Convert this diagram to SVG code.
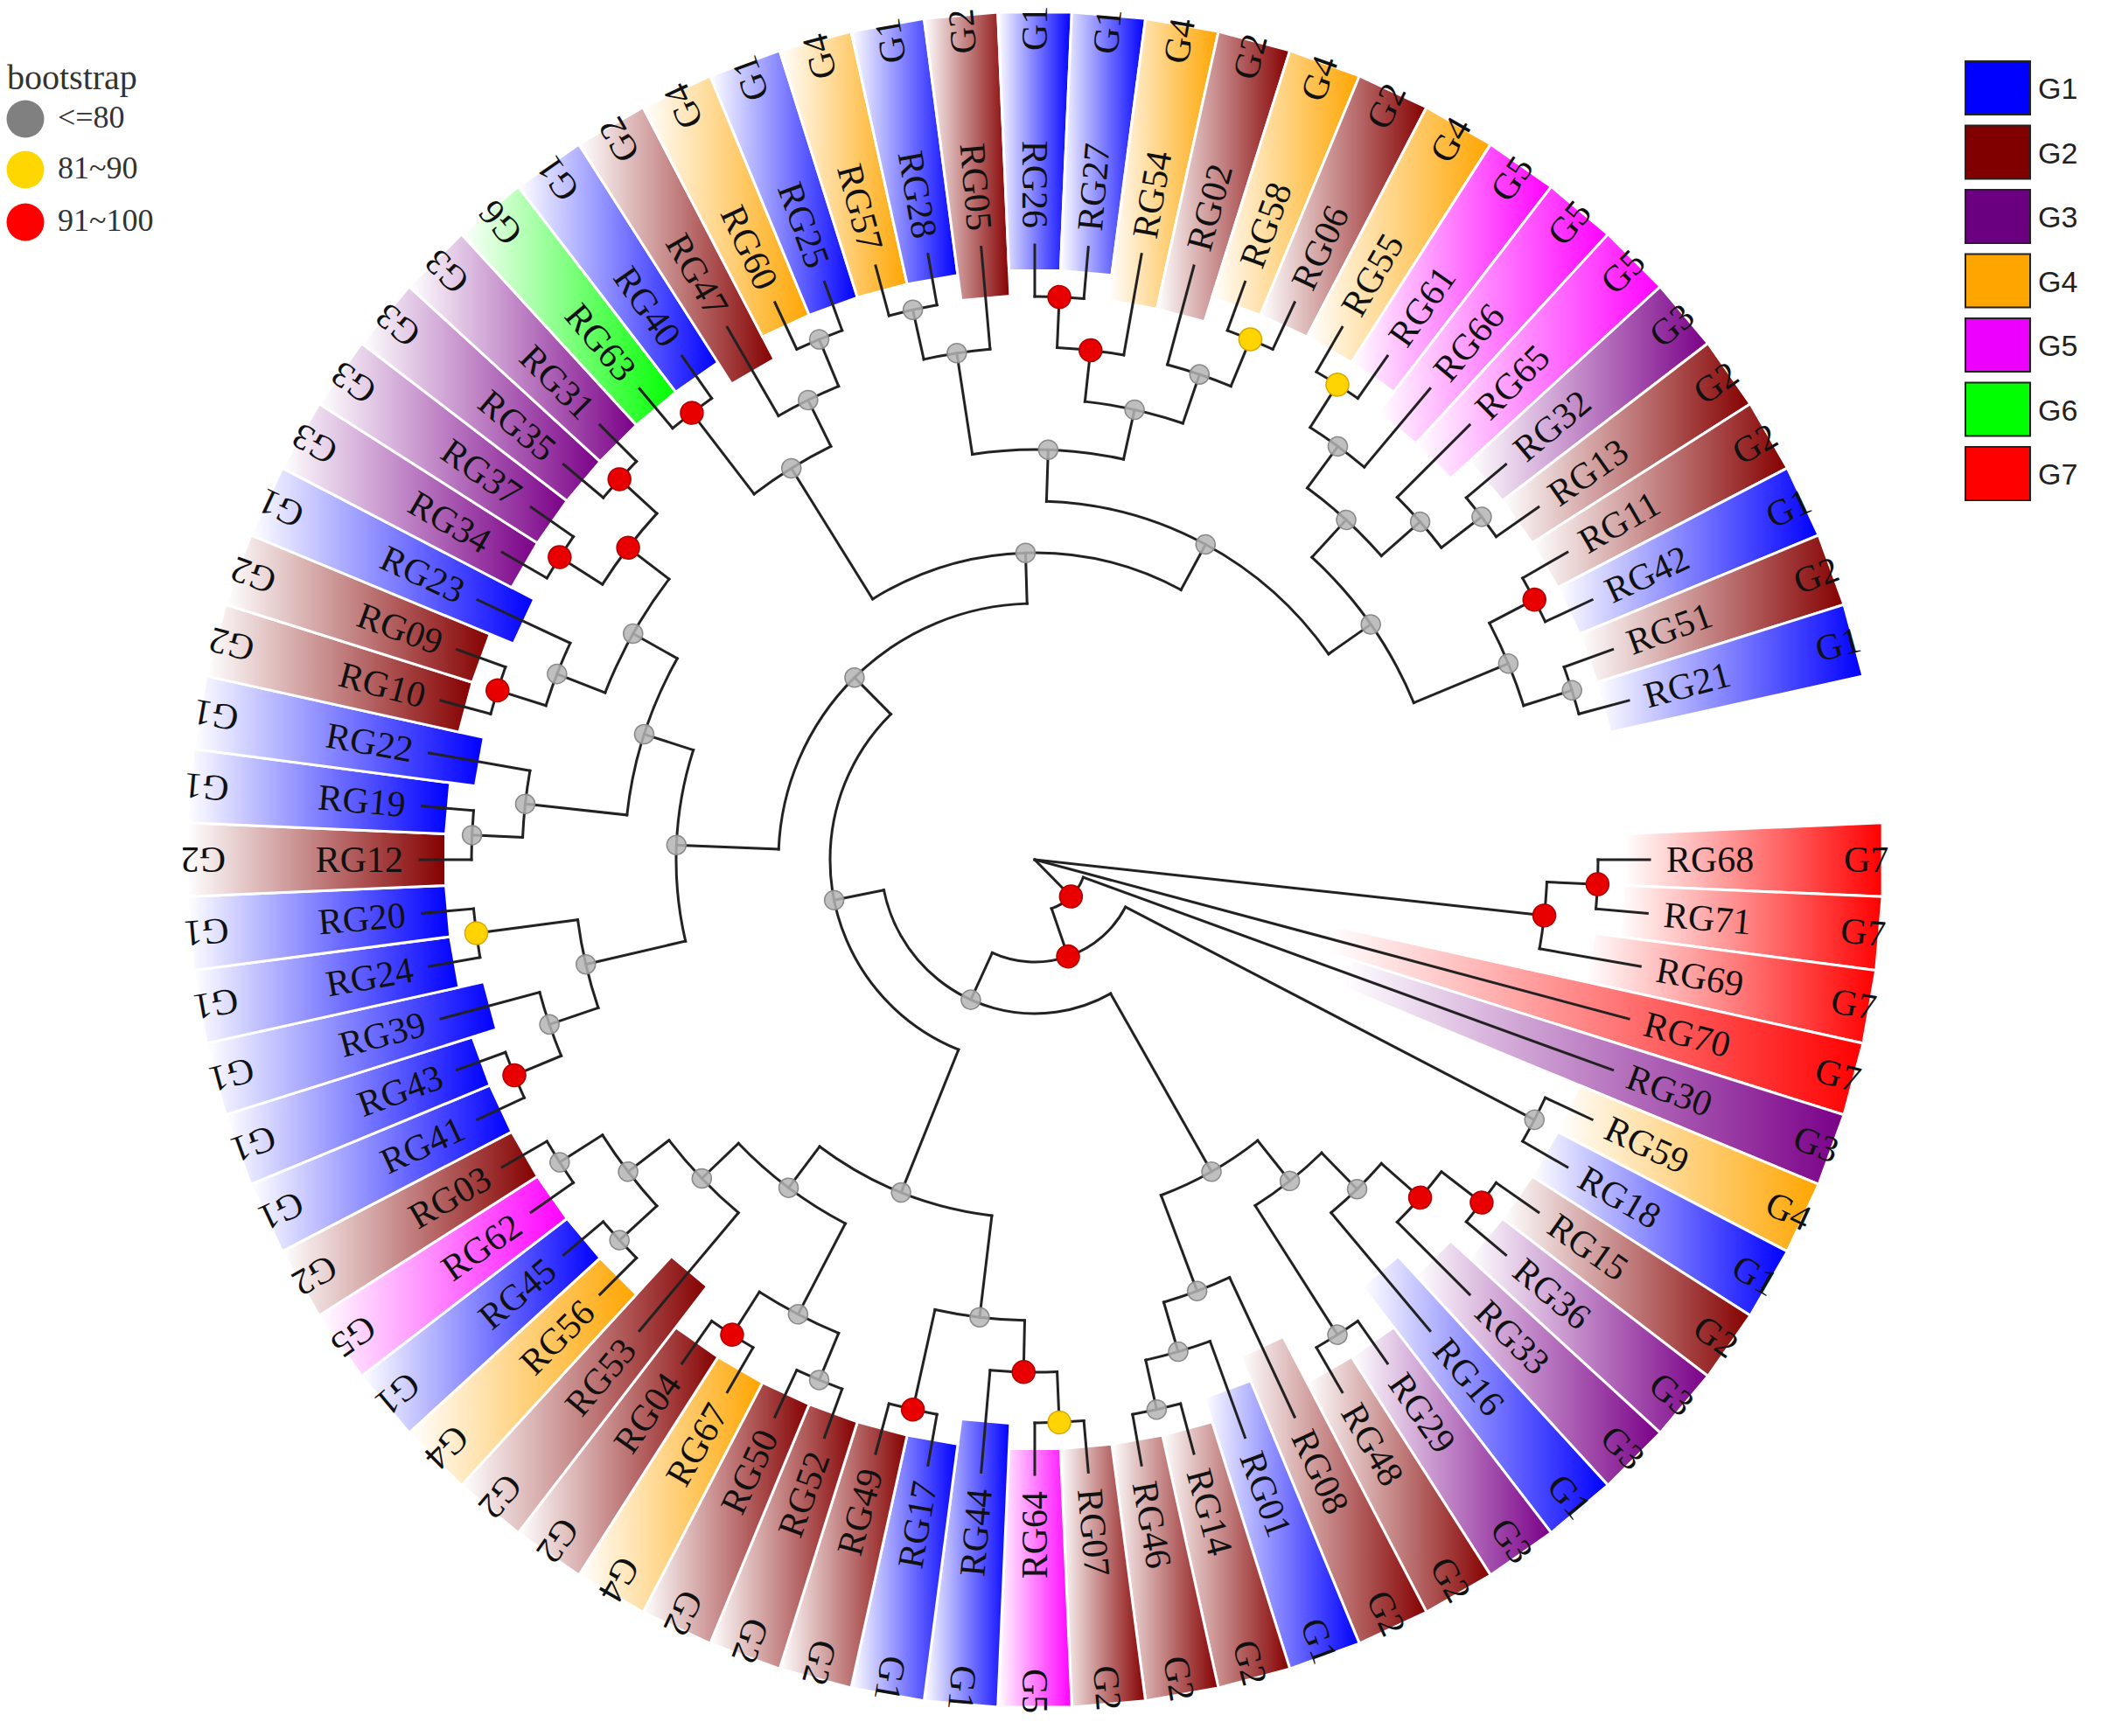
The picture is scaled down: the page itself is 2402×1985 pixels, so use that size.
<svg xmlns="http://www.w3.org/2000/svg" width="2402" height="1985" viewBox="0 0 2402 1985">
<defs>
<linearGradient id="g1" x1="0" y1="0" x2="1" y2="0"><stop offset="0" stop-color="#ffffff"/><stop offset="1" stop-color="#0000ff"/></linearGradient>
<linearGradient id="g2" x1="0" y1="0" x2="1" y2="0"><stop offset="0" stop-color="#ffffff"/><stop offset="1" stop-color="#850000"/></linearGradient>
<linearGradient id="g3" x1="0" y1="0" x2="1" y2="0"><stop offset="0" stop-color="#ffffff"/><stop offset="1" stop-color="#7a0088"/></linearGradient>
<linearGradient id="g4" x1="0" y1="0" x2="1" y2="0"><stop offset="0" stop-color="#ffffff"/><stop offset="1" stop-color="#ffa500"/></linearGradient>
<linearGradient id="g5" x1="0" y1="0" x2="1" y2="0"><stop offset="0" stop-color="#ffffff"/><stop offset="1" stop-color="#ff00ff"/></linearGradient>
<linearGradient id="g6" x1="0" y1="0" x2="1" y2="0"><stop offset="0" stop-color="#ffffff"/><stop offset="1" stop-color="#00ff00"/></linearGradient>
<linearGradient id="g7" x1="0" y1="0" x2="1" y2="0"><stop offset="0" stop-color="#ffffff"/><stop offset="1" stop-color="#ff0000"/></linearGradient>
</defs>
<style>
.w{stroke:#ffffff;stroke-width:3}
.lr,.ll,.gl{font-family:"Liberation Serif","Times New Roman",serif;font-size:42px;fill:#111;dominant-baseline:central}
.ll{text-anchor:end}
.c{fill:none;stroke:#222;stroke-width:3;stroke-linecap:square}
.dg{fill:#b4b4b4;fill-opacity:.85;stroke:#8a8a8a;stroke-width:1.5}
.dr{fill:#e80000;stroke:#b00000;stroke-width:1.5}
.dy{fill:#ffd400;stroke:#d9a800;stroke-width:1.5}
.bt{font-family:"Liberation Serif","Times New Roman",serif;fill:#333;dominant-baseline:central}
.lg{font-family:"Liberation Sans",Arial,sans-serif;font-size:34px;fill:#222;dominant-baseline:central}
.sq{stroke:#222;stroke-width:2}
</style>
<rect width="2402" height="1985" fill="#ffffff"/>

<g id="leaves" transform="translate(1183 983)">
<g id="RG68"><polygon class="w" fill="url(#g7)" points="673.4,-29.4 969.1,-42.3 969.1,42.3 673.4,29.4"/><text class="lr" x="722">RG68</text><text class="gl" x="925">G7</text></g>
<g id="RG71"><polygon class="w" fill="url(#g7)" points="673.4,29.4 969.1,42.3 961.7,126.6 668.2,88"/><g transform="rotate(5)"><text class="lr" x="722">RG71</text><text class="gl" x="925">G7</text></g></g>
<g id="RG69"><polygon class="w" fill="url(#g7)" points="639.5,84.2 961.7,126.6 947,210 629.7,139.6"/><g transform="rotate(10)"><text class="lr" x="722">RG69</text><text class="gl" x="925">G7</text></g></g>
<g id="RG70"><polygon class="w" fill="url(#g7)" points="343.7,76.2 947,210 925.1,291.7 335.7,105.9"/><g transform="rotate(15)"><text class="lr" x="722">RG70</text><text class="gl" x="925">G7</text></g></g>
<g id="RG30"><polygon class="w" fill="url(#g3)" points="363.4,114.6 925.1,291.7 896.2,371.2 352,145.8"/><g transform="rotate(20)"><text class="lr" x="722">RG30</text><text class="gl" x="925">G3</text></g></g>
<g id="RG59"><polygon class="w" fill="url(#g4)" points="622.7,257.9 896.2,371.2 860.4,447.9 597.9,311.2"/><g transform="rotate(25)"><text class="lr" x="722">RG59</text><text class="gl" x="925">G4</text></g></g>
<g id="RG18"><polygon class="w" fill="url(#g1)" points="597.9,311.2 860.4,447.9 818.1,521.2 568.5,362.1"/><g transform="rotate(30)"><text class="lr" x="722">RG18</text><text class="gl" x="925">G1</text></g></g>
<g id="RG15"><polygon class="w" fill="url(#g2)" points="568.5,362.1 818.1,521.2 769.6,590.5 534.7,410.3"/><g transform="rotate(35)"><text class="lr" x="722">RG15</text><text class="gl" x="925">G2</text></g></g>
<g id="RG36"><polygon class="w" fill="url(#g3)" points="534.7,410.3 769.6,590.5 715.2,655.3 496.9,455.4"/><g transform="rotate(40)"><text class="lr" x="722">RG36</text><text class="gl" x="925">G3</text></g></g>
<g id="RG33"><polygon class="w" fill="url(#g3)" points="475.5,435.8 715.2,655.3 655.3,715.2 435.8,475.5"/><g transform="rotate(45)"><text class="lr" x="722">RG33</text><text class="gl" x="925">G3</text></g></g>
<g id="RG16"><polygon class="w" fill="url(#g1)" points="415.5,453.4 655.3,715.2 590.5,769.6 374.4,487.9"/><g transform="rotate(50)"><text class="lr" x="722">RG16</text><text class="gl" x="925">G1</text></g></g>
<g id="RG29"><polygon class="w" fill="url(#g3)" points="410.3,534.7 590.5,769.6 521.2,818.1 362.1,568.5"/><g transform="rotate(55)"><text class="lr" x="722">RG29</text><text class="gl" x="925">G3</text></g></g>
<g id="RG48"><polygon class="w" fill="url(#g2)" points="362.1,568.5 521.2,818.1 447.9,860.4 311.2,597.9"/><g transform="rotate(60)"><text class="lr" x="722">RG48</text><text class="gl" x="925">G2</text></g></g>
<g id="RG08"><polygon class="w" fill="url(#g2)" points="284,545.5 447.9,860.4 371.2,896.2 235.4,568.2"/><g transform="rotate(65)"><text class="lr" x="722">RG08</text><text class="gl" x="925">G2</text></g></g>
<g id="RG01"><polygon class="w" fill="url(#g1)" points="246.8,595.9 371.2,896.2 291.7,925.1 194,615.2"/><g transform="rotate(70)"><text class="lr" x="722">RG01</text><text class="gl" x="925">G1</text></g></g>
<g id="RG14"><polygon class="w" fill="url(#g2)" points="202.7,642.8 291.7,925.1 210,947 145.9,658"/><g transform="rotate(75)"><text class="lr" x="722">RG14</text><text class="gl" x="925">G2</text></g></g>
<g id="RG46"><polygon class="w" fill="url(#g2)" points="145.9,658 210,947 126.6,961.7 88,668.2"/><g transform="rotate(80)"><text class="lr" x="722">RG46</text><text class="gl" x="925">G2</text></g></g>
<g id="RG07"><polygon class="w" fill="url(#g2)" points="88,668.2 126.6,961.7 42.3,969.1 29.4,673.4"/><g transform="rotate(85)"><text class="lr" x="722">RG07</text><text class="gl" x="925">G2</text></g></g>
<g id="RG64"><polygon class="w" fill="url(#g5)" points="29.4,673.4 42.3,969.1 -42.3,969.1 -29.4,673.4"/><g transform="rotate(-90)"><text class="ll" x="-722">RG64</text><text class="gl" x="925" transform="rotate(180)">G5</text></g></g>
<g id="RG44"><polygon class="w" fill="url(#g1)" points="-28.1,644.4 -42.3,969.1 -126.6,961.7 -84.2,639.5"/><g transform="rotate(-85)"><text class="ll" x="-722">RG44</text><text class="gl" x="925" transform="rotate(180)">G1</text></g></g>
<g id="RG17"><polygon class="w" fill="url(#g1)" points="-88,668.2 -126.6,961.7 -210,947 -145.9,658"/><g transform="rotate(-80)"><text class="ll" x="-722">RG17</text><text class="gl" x="925" transform="rotate(180)">G1</text></g></g>
<g id="RG49"><polygon class="w" fill="url(#g2)" points="-145.9,658 -210,947 -291.7,925.1 -202.7,642.8"/><g transform="rotate(-75)"><text class="ll" x="-722">RG49</text><text class="gl" x="925" transform="rotate(180)">G2</text></g></g>
<g id="RG52"><polygon class="w" fill="url(#g2)" points="-202.7,642.8 -291.7,925.1 -371.2,896.2 -257.9,622.7"/><g transform="rotate(-70)"><text class="ll" x="-722">RG52</text><text class="gl" x="925" transform="rotate(180)">G2</text></g></g>
<g id="RG50"><polygon class="w" fill="url(#g2)" points="-257.9,622.7 -371.2,896.2 -447.9,860.4 -311.2,597.9"/><g transform="rotate(-65)"><text class="ll" x="-722">RG50</text><text class="gl" x="925" transform="rotate(180)">G2</text></g></g>
<g id="RG67"><polygon class="w" fill="url(#g4)" points="-311.2,597.9 -447.9,860.4 -521.2,818.1 -362.1,568.5"/><g transform="rotate(-60)"><text class="ll" x="-722">RG67</text><text class="gl" x="925" transform="rotate(180)">G4</text></g></g>
<g id="RG04"><polygon class="w" fill="url(#g2)" points="-362.1,568.5 -521.2,818.1 -590.5,769.6 -410.3,534.7"/><g transform="rotate(-55)"><text class="ll" x="-722">RG04</text><text class="gl" x="925" transform="rotate(180)">G2</text></g></g>
<g id="RG53"><polygon class="w" fill="url(#g2)" points="-374.4,487.9 -590.5,769.6 -655.3,715.2 -415.5,453.4"/><g transform="rotate(-50)"><text class="ll" x="-722">RG53</text><text class="gl" x="925" transform="rotate(180)">G2</text></g></g>
<g id="RG56"><polygon class="w" fill="url(#g4)" points="-455.4,496.9 -655.3,715.2 -715.2,655.3 -496.9,455.4"/><g transform="rotate(-45)"><text class="ll" x="-722">RG56</text><text class="gl" x="925" transform="rotate(180)">G4</text></g></g>
<g id="RG45"><polygon class="w" fill="url(#g1)" points="-496.9,455.4 -715.2,655.3 -769.6,590.5 -534.7,410.3"/><g transform="rotate(-40)"><text class="ll" x="-722">RG45</text><text class="gl" x="925" transform="rotate(180)">G1</text></g></g>
<g id="RG62"><polygon class="w" fill="url(#g5)" points="-534.7,410.3 -769.6,590.5 -818.1,521.2 -568.5,362.1"/><g transform="rotate(-35)"><text class="ll" x="-722">RG62</text><text class="gl" x="925" transform="rotate(180)">G5</text></g></g>
<g id="RG03"><polygon class="w" fill="url(#g2)" points="-568.5,362.1 -818.1,521.2 -860.4,447.9 -597.9,311.2"/><g transform="rotate(-30)"><text class="ll" x="-722">RG03</text><text class="gl" x="925" transform="rotate(180)">G2</text></g></g>
<g id="RG41"><polygon class="w" fill="url(#g1)" points="-597.9,311.2 -860.4,447.9 -896.2,371.2 -622.7,257.9"/><g transform="rotate(-25)"><text class="ll" x="-722">RG41</text><text class="gl" x="925" transform="rotate(180)">G1</text></g></g>
<g id="RG43"><polygon class="w" fill="url(#g1)" points="-622.7,257.9 -896.2,371.2 -925.1,291.7 -642.8,202.7"/><g transform="rotate(-20)"><text class="ll" x="-722">RG43</text><text class="gl" x="925" transform="rotate(180)">G1</text></g></g>
<g id="RG39"><polygon class="w" fill="url(#g1)" points="-615.2,194 -925.1,291.7 -947,210 -629.7,139.6"/><g transform="rotate(-15)"><text class="ll" x="-722">RG39</text><text class="gl" x="925" transform="rotate(180)">G1</text></g></g>
<g id="RG24"><polygon class="w" fill="url(#g1)" points="-658,145.9 -947,210 -961.7,126.6 -668.2,88"/><g transform="rotate(-10)"><text class="ll" x="-722">RG24</text><text class="gl" x="925" transform="rotate(180)">G1</text></g></g>
<g id="RG20"><polygon class="w" fill="url(#g1)" points="-668.2,88 -961.7,126.6 -969.1,42.3 -673.4,29.4"/><g transform="rotate(-5)"><text class="ll" x="-722">RG20</text><text class="gl" x="925" transform="rotate(180)">G1</text></g></g>
<g id="RG12"><polygon class="w" fill="url(#g2)" points="-673.4,29.4 -969.1,42.3 -969.1,-42.3 -673.4,-29.4"/><g><text class="ll" x="-722">RG12</text><text class="gl" x="925" transform="rotate(180)">G2</text></g></g>
<g id="RG19"><polygon class="w" fill="url(#g1)" points="-673.4,-29.4 -969.1,-42.3 -961.7,-126.6 -668.2,-88"/><g transform="rotate(5)"><text class="ll" x="-722">RG19</text><text class="gl" x="925" transform="rotate(180)">G1</text></g></g>
<g id="RG22"><polygon class="w" fill="url(#g1)" points="-639.5,-84.2 -961.7,-126.6 -947,-210 -629.7,-139.6"/><g transform="rotate(10)"><text class="ll" x="-722">RG22</text><text class="gl" x="925" transform="rotate(180)">G1</text></g></g>
<g id="RG10"><polygon class="w" fill="url(#g2)" points="-658,-145.9 -947,-210 -925.1,-291.7 -642.8,-202.7"/><g transform="rotate(15)"><text class="ll" x="-722">RG10</text><text class="gl" x="925" transform="rotate(180)">G2</text></g></g>
<g id="RG09"><polygon class="w" fill="url(#g2)" points="-642.8,-202.7 -925.1,-291.7 -896.2,-371.2 -622.7,-257.9"/><g transform="rotate(20)"><text class="ll" x="-722">RG09</text><text class="gl" x="925" transform="rotate(180)">G2</text></g></g>
<g id="RG23"><polygon class="w" fill="url(#g1)" points="-595.9,-246.8 -896.2,-371.2 -860.4,-447.9 -572.1,-297.8"/><g transform="rotate(25)"><text class="ll" x="-722">RG23</text><text class="gl" x="925" transform="rotate(180)">G1</text></g></g>
<g id="RG34"><polygon class="w" fill="url(#g3)" points="-597.9,-311.2 -860.4,-447.9 -818.1,-521.2 -568.5,-362.1"/><g transform="rotate(30)"><text class="ll" x="-722">RG34</text><text class="gl" x="925" transform="rotate(180)">G3</text></g></g>
<g id="RG37"><polygon class="w" fill="url(#g3)" points="-568.5,-362.1 -818.1,-521.2 -769.6,-590.5 -534.7,-410.3"/><g transform="rotate(35)"><text class="ll" x="-722">RG37</text><text class="gl" x="925" transform="rotate(180)">G3</text></g></g>
<g id="RG35"><polygon class="w" fill="url(#g3)" points="-534.7,-410.3 -769.6,-590.5 -715.2,-655.3 -496.9,-455.4"/><g transform="rotate(40)"><text class="ll" x="-722">RG35</text><text class="gl" x="925" transform="rotate(180)">G3</text></g></g>
<g id="RG31"><polygon class="w" fill="url(#g3)" points="-496.9,-455.4 -715.2,-655.3 -655.3,-715.2 -455.4,-496.9"/><g transform="rotate(45)"><text class="ll" x="-722">RG31</text><text class="gl" x="925" transform="rotate(180)">G3</text></g></g>
<g id="RG63"><polygon class="w" fill="url(#g6)" points="-455.4,-496.9 -655.3,-715.2 -590.5,-769.6 -410.3,-534.7"/><g transform="rotate(50)"><text class="ll" x="-722">RG63</text><text class="gl" x="925" transform="rotate(180)">G6</text></g></g>
<g id="RG40"><polygon class="w" fill="url(#g1)" points="-410.3,-534.7 -590.5,-769.6 -521.2,-818.1 -362.1,-568.5"/><g transform="rotate(55)"><text class="ll" x="-722">RG40</text><text class="gl" x="925" transform="rotate(180)">G1</text></g></g>
<g id="RG47"><polygon class="w" fill="url(#g2)" points="-346.6,-544 -521.2,-818.1 -447.9,-860.4 -297.8,-572.1"/><g transform="rotate(60)"><text class="ll" x="-722">RG47</text><text class="gl" x="925" transform="rotate(180)">G2</text></g></g>
<g id="RG60"><polygon class="w" fill="url(#g4)" points="-311.2,-597.9 -447.9,-860.4 -371.2,-896.2 -257.9,-622.7"/><g transform="rotate(65)"><text class="ll" x="-722">RG60</text><text class="gl" x="925" transform="rotate(180)">G4</text></g></g>
<g id="RG25"><polygon class="w" fill="url(#g1)" points="-257.9,-622.7 -371.2,-896.2 -291.7,-925.1 -202.7,-642.8"/><g transform="rotate(70)"><text class="ll" x="-722">RG25</text><text class="gl" x="925" transform="rotate(180)">G1</text></g></g>
<g id="RG57"><polygon class="w" fill="url(#g4)" points="-202.7,-642.8 -291.7,-925.1 -210,-947 -145.9,-658"/><g transform="rotate(75)"><text class="ll" x="-722">RG57</text><text class="gl" x="925" transform="rotate(180)">G4</text></g></g>
<g id="RG28"><polygon class="w" fill="url(#g1)" points="-145.9,-658 -210,-947 -126.6,-961.7 -88,-668.2"/><g transform="rotate(80)"><text class="ll" x="-722">RG28</text><text class="gl" x="925" transform="rotate(180)">G1</text></g></g>
<g id="RG05"><polygon class="w" fill="url(#g2)" points="-84.2,-639.5 -126.6,-961.7 -42.3,-969.1 -28.1,-644.4"/><g transform="rotate(85)"><text class="ll" x="-722">RG05</text><text class="gl" x="925" transform="rotate(180)">G2</text></g></g>
<g id="RG26"><polygon class="w" fill="url(#g1)" points="-29.4,-673.4 -42.3,-969.1 42.3,-969.1 29.4,-673.4"/><g transform="rotate(90)"><text class="ll" x="-722">RG26</text><text class="gl" x="925" transform="rotate(180)">G1</text></g></g>
<g id="RG27"><polygon class="w" fill="url(#g1)" points="29.4,-673.4 42.3,-969.1 126.6,-961.7 88,-668.2"/><g transform="rotate(275)"><text class="lr" x="722">RG27</text><text class="gl" x="925">G1</text></g></g>
<g id="RG54"><polygon class="w" fill="url(#g4)" points="84.2,-639.5 126.6,-961.7 210,-947 139.6,-629.7"/><g transform="rotate(280)"><text class="lr" x="722">RG54</text><text class="gl" x="925">G4</text></g></g>
<g id="RG02"><polygon class="w" fill="url(#g2)" points="139.6,-629.7 210,-947 291.7,-925.1 194,-615.2"/><g transform="rotate(285)"><text class="lr" x="722">RG02</text><text class="gl" x="925">G2</text></g></g>
<g id="RG58"><polygon class="w" fill="url(#g4)" points="202.7,-642.8 291.7,-925.1 371.2,-896.2 257.9,-622.7"/><g transform="rotate(290)"><text class="lr" x="722">RG58</text><text class="gl" x="925">G4</text></g></g>
<g id="RG06"><polygon class="w" fill="url(#g2)" points="257.9,-622.7 371.2,-896.2 447.9,-860.4 311.2,-597.9"/><g transform="rotate(295)"><text class="lr" x="722">RG06</text><text class="gl" x="925">G2</text></g></g>
<g id="RG55"><polygon class="w" fill="url(#g4)" points="311.2,-597.9 447.9,-860.4 521.2,-818.1 362.1,-568.5"/><g transform="rotate(300)"><text class="lr" x="722">RG55</text><text class="gl" x="925">G4</text></g></g>
<g id="RG61"><polygon class="w" fill="url(#g5)" points="362.1,-568.5 521.2,-818.1 590.5,-769.6 410.3,-534.7"/><g transform="rotate(305)"><text class="lr" x="722">RG61</text><text class="gl" x="925">G5</text></g></g>
<g id="RG66"><polygon class="w" fill="url(#g5)" points="392.7,-511.7 590.5,-769.6 655.3,-715.2 435.8,-475.5"/><g transform="rotate(310)"><text class="lr" x="722">RG66</text><text class="gl" x="925">G5</text></g></g>
<g id="RG65"><polygon class="w" fill="url(#g5)" points="435.8,-475.5 655.3,-715.2 715.2,-655.3 475.5,-435.8"/><g transform="rotate(315)"><text class="lr" x="722">RG65</text><text class="gl" x="925">G5</text></g></g>
<g id="RG32"><polygon class="w" fill="url(#g3)" points="496.9,-455.4 715.2,-655.3 769.6,-590.5 534.7,-410.3"/><g transform="rotate(320)"><text class="lr" x="722">RG32</text><text class="gl" x="925">G3</text></g></g>
<g id="RG13"><polygon class="w" fill="url(#g2)" points="534.7,-410.3 769.6,-590.5 818.1,-521.2 568.5,-362.1"/><g transform="rotate(325)"><text class="lr" x="722">RG13</text><text class="gl" x="925">G2</text></g></g>
<g id="RG11"><polygon class="w" fill="url(#g2)" points="568.5,-362.1 818.1,-521.2 860.4,-447.9 597.9,-311.2"/><g transform="rotate(330)"><text class="lr" x="722">RG11</text><text class="gl" x="925">G2</text></g></g>
<g id="RG42"><polygon class="w" fill="url(#g1)" points="597.9,-311.2 860.4,-447.9 896.2,-371.2 622.7,-257.9"/><g transform="rotate(335)"><text class="lr" x="722">RG42</text><text class="gl" x="925">G1</text></g></g>
<g id="RG51"><polygon class="w" fill="url(#g2)" points="622.7,-257.9 896.2,-371.2 925.1,-291.7 642.8,-202.7"/><g transform="rotate(340)"><text class="lr" x="722">RG51</text><text class="gl" x="925">G2</text></g></g>
<g id="RG21"><polygon class="w" fill="url(#g1)" points="642.8,-202.7 925.1,-291.7 947,-210 658,-145.9"/><g transform="rotate(345)"><text class="lr" x="722">RG21</text><text class="gl" x="925">G1</text></g></g>
</g>

<g id="connectors" class="c" transform="translate(1183 983)">
<line x2="586" transform="rotate(6.25)"/>
<line x2="703" transform="rotate(15)"/>
<line x2="59" transform="rotate(45.51)"/>
<line x1="644" x2="703"/>
<line x1="644" x2="703" transform="rotate(5)"/>
<line x1="586" x2="644" transform="rotate(2.5)"/>
<line x1="586" x2="703" transform="rotate(10)"/>
<line x1="59" x2="703" transform="rotate(20)"/>
<line x1="59" x2="117" transform="rotate(71.02)"/>
<line x1="117" x2="644" transform="rotate(27.5)"/>
<line x1="117" x2="176" transform="rotate(114.53)"/>
<line x1="644" x2="703" transform="rotate(25)"/>
<line x1="644" x2="703" transform="rotate(30)"/>
<line x1="176" x2="410" transform="rotate(60.47)"/>
<line x1="176" x2="234" transform="rotate(168.59)"/>
<line x1="410" x2="469" transform="rotate(51.56)"/>
<line x1="410" x2="527" transform="rotate(69.375)"/>
<line x1="469" x2="527" transform="rotate(45.625)"/>
<line x1="469" x2="644" transform="rotate(57.5)"/>
<line x1="527" x2="586" transform="rotate(41.25)"/>
<line x1="527" x2="703" transform="rotate(50)"/>
<line x1="586" x2="644" transform="rotate(37.5)"/>
<line x1="586" x2="703" transform="rotate(45)"/>
<line x1="644" x2="703" transform="rotate(35)"/>
<line x1="644" x2="703" transform="rotate(40)"/>
<line x1="644" x2="703" transform="rotate(55)"/>
<line x1="644" x2="703" transform="rotate(60)"/>
<line x1="527" x2="703" transform="rotate(65)"/>
<line x1="527" x2="586" transform="rotate(73.75)"/>
<line x1="586" x2="703" transform="rotate(70)"/>
<line x1="586" x2="644" transform="rotate(77.5)"/>
<line x1="644" x2="703" transform="rotate(75)"/>
<line x1="644" x2="703" transform="rotate(80)"/>
<line x1="234" x2="410" transform="rotate(111.875)"/>
<line x1="234" x2="293" transform="rotate(225.31)"/>
<line x1="410" x2="527" transform="rotate(96.875)"/>
<line x1="410" x2="469" transform="rotate(126.875)"/>
<line x1="527" x2="586" transform="rotate(91.25)"/>
<line x1="527" x2="644" transform="rotate(102.5)"/>
<line x1="586" x2="644" transform="rotate(87.5)"/>
<line x1="586" x2="703" transform="rotate(95)"/>
<line x1="644" x2="703" transform="rotate(85)"/>
<line x1="644" x2="703" transform="rotate(90)"/>
<line x1="644" x2="703" transform="rotate(100)"/>
<line x1="644" x2="703" transform="rotate(105)"/>
<line x1="469" x2="586" transform="rotate(117.5)"/>
<line x1="469" x2="527" transform="rotate(136.25)"/>
<line x1="586" x2="644" transform="rotate(112.5)"/>
<line x1="586" x2="644" transform="rotate(122.5)"/>
<line x1="644" x2="703" transform="rotate(110)"/>
<line x1="644" x2="703" transform="rotate(115)"/>
<line x1="644" x2="703" transform="rotate(120)"/>
<line x1="644" x2="703" transform="rotate(125)"/>
<line x1="527" x2="703" transform="rotate(130)"/>
<line x1="527" x2="586" transform="rotate(142.5)"/>
<line x1="586" x2="644" transform="rotate(137.5)"/>
<line x1="586" x2="644" transform="rotate(147.5)"/>
<line x1="644" x2="703" transform="rotate(135)"/>
<line x1="644" x2="703" transform="rotate(140)"/>
<line x1="644" x2="703" transform="rotate(145)"/>
<line x1="644" x2="703" transform="rotate(150)"/>
<line x1="293" x2="410" transform="rotate(182.34)"/>
<line x1="293" x2="351" transform="rotate(268.28)"/>
<line x1="410" x2="527" transform="rotate(166.875)"/>
<line x1="410" x2="469" transform="rotate(197.81)"/>
<line x1="527" x2="586" transform="rotate(161.25)"/>
<line x1="527" x2="644" transform="rotate(172.5)"/>
<line x1="586" x2="644" transform="rotate(157.5)"/>
<line x1="586" x2="703" transform="rotate(165)"/>
<line x1="644" x2="703" transform="rotate(155)"/>
<line x1="644" x2="703" transform="rotate(160)"/>
<line x1="644" x2="703" transform="rotate(170)"/>
<line x1="644" x2="703" transform="rotate(175)"/>
<line x1="469" x2="586" transform="rotate(186.25)"/>
<line x1="469" x2="527" transform="rotate(209.375)"/>
<line x1="586" x2="644" transform="rotate(182.5)"/>
<line x1="586" x2="703" transform="rotate(190)"/>
<line x1="644" x2="703" transform="rotate(180)"/>
<line x1="644" x2="703" transform="rotate(185)"/>
<line x1="527" x2="586" transform="rotate(201.25)"/>
<line x1="527" x2="586" transform="rotate(217.5)"/>
<line x1="586" x2="644" transform="rotate(197.5)"/>
<line x1="586" x2="703" transform="rotate(205)"/>
<line x1="644" x2="703" transform="rotate(195)"/>
<line x1="644" x2="703" transform="rotate(200)"/>
<line x1="586" x2="644" transform="rotate(212.5)"/>
<line x1="586" x2="644" transform="rotate(222.5)"/>
<line x1="644" x2="703" transform="rotate(210)"/>
<line x1="644" x2="703" transform="rotate(215)"/>
<line x1="644" x2="703" transform="rotate(220)"/>
<line x1="644" x2="703" transform="rotate(225)"/>
<line x1="351" x2="527" transform="rotate(238.125)"/>
<line x1="351" x2="410" transform="rotate(298.44)"/>
<line x1="527" x2="644" transform="rotate(232.5)"/>
<line x1="527" x2="586" transform="rotate(243.75)"/>
<line x1="644" x2="703" transform="rotate(230)"/>
<line x1="644" x2="703" transform="rotate(235)"/>
<line x1="586" x2="703" transform="rotate(240)"/>
<line x1="586" x2="644" transform="rotate(247.5)"/>
<line x1="644" x2="703" transform="rotate(245)"/>
<line x1="644" x2="703" transform="rotate(250)"/>
<line x1="410" x2="469" transform="rotate(271.875)"/>
<line x1="410" x2="469" transform="rotate(325)"/>
<line x1="469" x2="586" transform="rotate(261.25)"/>
<line x1="469" x2="527" transform="rotate(282.5)"/>
<line x1="586" x2="644" transform="rotate(257.5)"/>
<line x1="586" x2="703" transform="rotate(265)"/>
<line x1="644" x2="703" transform="rotate(255)"/>
<line x1="644" x2="703" transform="rotate(260)"/>
<line x1="527" x2="586" transform="rotate(276.25)"/>
<line x1="527" x2="586" transform="rotate(288.75)"/>
<line x1="586" x2="644" transform="rotate(272.5)"/>
<line x1="586" x2="703" transform="rotate(280)"/>
<line x1="644" x2="703" transform="rotate(270)"/>
<line x1="644" x2="703" transform="rotate(275)"/>
<line x1="586" x2="703" transform="rotate(285)"/>
<line x1="586" x2="644" transform="rotate(292.5)"/>
<line x1="644" x2="703" transform="rotate(290)"/>
<line x1="644" x2="703" transform="rotate(295)"/>
<line x1="469" x2="527" transform="rotate(312.5)"/>
<line x1="469" x2="586" transform="rotate(337.5)"/>
<line x1="527" x2="586" transform="rotate(306.25)"/>
<line x1="527" x2="586" transform="rotate(318.75)"/>
<line x1="586" x2="644" transform="rotate(302.5)"/>
<line x1="586" x2="703" transform="rotate(310)"/>
<line x1="644" x2="703" transform="rotate(300)"/>
<line x1="644" x2="703" transform="rotate(305)"/>
<line x1="586" x2="703" transform="rotate(315)"/>
<line x1="586" x2="644" transform="rotate(322.5)"/>
<line x1="644" x2="703" transform="rotate(320)"/>
<line x1="644" x2="703" transform="rotate(325)"/>
<line x1="586" x2="644" transform="rotate(332.5)"/>
<line x1="586" x2="644" transform="rotate(342.5)"/>
<line x1="644" x2="703" transform="rotate(330)"/>
<line x1="644" x2="703" transform="rotate(335)"/>
<line x1="644" x2="703" transform="rotate(340)"/>
<line x1="644" x2="703" transform="rotate(345)"/>
<circle r="644" stroke-dasharray="56.2 9999"/>
<circle r="586" stroke-dasharray="76.7 9999" transform="rotate(2.5)"/>
<circle r="59" stroke-dasharray="52.54 9999" transform="rotate(20)"/>
<circle r="117" stroke-dasharray="177.72 9999" transform="rotate(27.5)"/>
<circle r="644" stroke-dasharray="56.2 9999" transform="rotate(25)"/>
<circle r="176" stroke-dasharray="332.12 9999" transform="rotate(60.47)"/>
<circle r="410" stroke-dasharray="127.47 9999" transform="rotate(51.5625)"/>
<circle r="469" stroke-dasharray="97.2 9999" transform="rotate(45.625)"/>
<circle r="527" stroke-dasharray="80.48 9999" transform="rotate(41.25)"/>
<circle r="586" stroke-dasharray="76.7 9999" transform="rotate(37.5)"/>
<circle r="644" stroke-dasharray="56.2 9999" transform="rotate(35)"/>
<circle r="644" stroke-dasharray="56.2 9999" transform="rotate(55)"/>
<circle r="527" stroke-dasharray="80.48 9999" transform="rotate(65)"/>
<circle r="586" stroke-dasharray="76.7 9999" transform="rotate(70)"/>
<circle r="644" stroke-dasharray="56.2 9999" transform="rotate(75)"/>
<circle r="234" stroke-dasharray="463.28 9999" transform="rotate(111.875)"/>
<circle r="410" stroke-dasharray="214.68 9999" transform="rotate(96.875)"/>
<circle r="527" stroke-dasharray="103.48 9999" transform="rotate(91.25)"/>
<circle r="586" stroke-dasharray="76.7 9999" transform="rotate(87.5)"/>
<circle r="644" stroke-dasharray="56.2 9999" transform="rotate(85)"/>
<circle r="644" stroke-dasharray="56.2 9999" transform="rotate(100)"/>
<circle r="469" stroke-dasharray="153.48 9999" transform="rotate(117.5)"/>
<circle r="586" stroke-dasharray="102.28 9999" transform="rotate(112.5)"/>
<circle r="644" stroke-dasharray="56.2 9999" transform="rotate(110)"/>
<circle r="644" stroke-dasharray="56.2 9999" transform="rotate(120)"/>
<circle r="527" stroke-dasharray="114.97 9999" transform="rotate(130)"/>
<circle r="586" stroke-dasharray="102.28 9999" transform="rotate(137.5)"/>
<circle r="644" stroke-dasharray="56.2 9999" transform="rotate(135)"/>
<circle r="644" stroke-dasharray="56.2 9999" transform="rotate(145)"/>
<circle r="293" stroke-dasharray="439.48 9999" transform="rotate(182.34)"/>
<circle r="410" stroke-dasharray="221.38 9999" transform="rotate(166.875)"/>
<circle r="527" stroke-dasharray="103.48 9999" transform="rotate(161.25)"/>
<circle r="586" stroke-dasharray="76.7 9999" transform="rotate(157.5)"/>
<circle r="644" stroke-dasharray="56.2 9999" transform="rotate(155)"/>
<circle r="644" stroke-dasharray="56.2 9999" transform="rotate(170)"/>
<circle r="469" stroke-dasharray="189.29 9999" transform="rotate(186.25)"/>
<circle r="586" stroke-dasharray="76.7 9999" transform="rotate(182.5)"/>
<circle r="644" stroke-dasharray="56.2 9999" transform="rotate(180)"/>
<circle r="527" stroke-dasharray="149.47 9999" transform="rotate(201.25)"/>
<circle r="586" stroke-dasharray="76.7 9999" transform="rotate(197.5)"/>
<circle r="644" stroke-dasharray="56.2 9999" transform="rotate(195)"/>
<circle r="586" stroke-dasharray="102.28 9999" transform="rotate(212.5)"/>
<circle r="644" stroke-dasharray="56.2 9999" transform="rotate(210)"/>
<circle r="644" stroke-dasharray="56.2 9999" transform="rotate(220)"/>
<circle r="351" stroke-dasharray="369.5 9999" transform="rotate(238.125)"/>
<circle r="527" stroke-dasharray="103.48 9999" transform="rotate(232.5)"/>
<circle r="644" stroke-dasharray="56.2 9999" transform="rotate(230)"/>
<circle r="586" stroke-dasharray="76.7 9999" transform="rotate(240)"/>
<circle r="644" stroke-dasharray="56.2 9999" transform="rotate(245)"/>
<circle r="410" stroke-dasharray="380.15 9999" transform="rotate(271.875)"/>
<circle r="469" stroke-dasharray="173.94 9999" transform="rotate(261.25)"/>
<circle r="586" stroke-dasharray="76.7 9999" transform="rotate(257.5)"/>
<circle r="644" stroke-dasharray="56.2 9999" transform="rotate(255)"/>
<circle r="527" stroke-dasharray="114.97 9999" transform="rotate(276.25)"/>
<circle r="586" stroke-dasharray="76.7 9999" transform="rotate(272.5)"/>
<circle r="644" stroke-dasharray="56.2 9999" transform="rotate(270)"/>
<circle r="586" stroke-dasharray="76.7 9999" transform="rotate(285)"/>
<circle r="644" stroke-dasharray="56.2 9999" transform="rotate(290)"/>
<circle r="469" stroke-dasharray="204.64 9999" transform="rotate(312.5)"/>
<circle r="527" stroke-dasharray="114.97 9999" transform="rotate(306.25)"/>
<circle r="586" stroke-dasharray="76.7 9999" transform="rotate(302.5)"/>
<circle r="644" stroke-dasharray="56.2 9999" transform="rotate(300)"/>
<circle r="586" stroke-dasharray="76.7 9999" transform="rotate(315)"/>
<circle r="644" stroke-dasharray="56.2 9999" transform="rotate(320)"/>
<circle r="586" stroke-dasharray="102.28 9999" transform="rotate(332.5)"/>
<circle r="644" stroke-dasharray="56.2 9999" transform="rotate(330)"/>
<circle r="644" stroke-dasharray="56.2 9999" transform="rotate(340)"/>
</g>

<g id="nodes" transform="translate(1183 983)">
<g id="n1"><circle class="dr" cx="644" r="13" transform="rotate(2.5)"/></g>
<g id="n2"><circle class="dr" cx="586" r="13" transform="rotate(6.25)"/></g>
<g id="n3"><circle class="dr" cx="59" r="13" transform="rotate(45.51)"/></g>
<g id="n4"><circle class="dr" cx="117" r="13" transform="rotate(71.02)"/></g>
<g id="n5"><circle class="dg" cx="644" r="11" transform="rotate(27.5)"/></g>
<g id="n6"><circle class="dg" cx="176" r="11" transform="rotate(114.53)"/></g>
<g id="n7"><circle class="dg" cx="410" r="11" transform="rotate(60.47)"/></g>
<g id="n8"><circle class="dg" cx="469" r="11" transform="rotate(51.56)"/></g>
<g id="n9"><circle class="dg" cx="527" r="11" transform="rotate(45.625)"/></g>
<g id="n10"><circle class="dr" cx="586" r="13" transform="rotate(41.25)"/></g>
<g id="n11"><circle class="dr" cx="644" r="13" transform="rotate(37.5)"/></g>
<g id="n12"><circle class="dg" cx="644" r="11" transform="rotate(57.5)"/></g>
<g id="n13"><circle class="dg" cx="527" r="11" transform="rotate(69.375)"/></g>
<g id="n14"><circle class="dg" cx="586" r="11" transform="rotate(73.75)"/></g>
<g id="n15"><circle class="dg" cx="644" r="11" transform="rotate(77.5)"/></g>
<g id="n16"><circle class="dg" cx="234" r="11" transform="rotate(168.59)"/></g>
<g id="n17"><circle class="dg" cx="410" r="11" transform="rotate(111.875)"/></g>
<g id="n18"><circle class="dg" cx="527" r="11" transform="rotate(96.875)"/></g>
<g id="n19"><circle class="dr" cx="586" r="13" transform="rotate(91.25)"/></g>
<g id="n20"><circle class="dy" cx="644" r="13" transform="rotate(87.5)"/></g>
<g id="n21"><circle class="dr" cx="644" r="13" transform="rotate(102.5)"/></g>
<g id="n22"><circle class="dg" cx="469" r="11" transform="rotate(126.875)"/></g>
<g id="n23"><circle class="dg" cx="586" r="11" transform="rotate(117.5)"/></g>
<g id="n24"><circle class="dg" cx="644" r="11" transform="rotate(112.5)"/></g>
<g id="n25"><circle class="dr" cx="644" r="13" transform="rotate(122.5)"/></g>
<g id="n26"><circle class="dg" cx="527" r="11" transform="rotate(136.25)"/></g>
<g id="n27"><circle class="dg" cx="586" r="11" transform="rotate(142.5)"/></g>
<g id="n28"><circle class="dg" cx="644" r="11" transform="rotate(137.5)"/></g>
<g id="n29"><circle class="dg" cx="644" r="11" transform="rotate(147.5)"/></g>
<g id="n30"><circle class="dg" cx="293" r="11" transform="rotate(225.31)"/></g>
<g id="n31"><circle class="dg" cx="410" r="11" transform="rotate(182.34)"/></g>
<g id="n32"><circle class="dg" cx="527" r="11" transform="rotate(166.875)"/></g>
<g id="n33"><circle class="dg" cx="586" r="11" transform="rotate(161.25)"/></g>
<g id="n34"><circle class="dr" cx="644" r="13" transform="rotate(157.5)"/></g>
<g id="n35"><circle class="dy" cx="644" r="13" transform="rotate(172.5)"/></g>
<g id="n36"><circle class="dg" cx="469" r="11" transform="rotate(197.81)"/></g>
<g id="n37"><circle class="dg" cx="586" r="11" transform="rotate(186.25)"/></g>
<g id="n38"><circle class="dg" cx="644" r="11" transform="rotate(182.5)"/></g>
<g id="n39"><circle class="dg" cx="527" r="11" transform="rotate(209.375)"/></g>
<g id="n40"><circle class="dg" cx="586" r="11" transform="rotate(201.25)"/></g>
<g id="n41"><circle class="dr" cx="644" r="13" transform="rotate(197.5)"/></g>
<g id="n42"><circle class="dr" cx="586" r="13" transform="rotate(217.5)"/></g>
<g id="n43"><circle class="dr" cx="644" r="13" transform="rotate(212.5)"/></g>
<g id="n44"><circle class="dr" cx="644" r="13" transform="rotate(222.5)"/></g>
<g id="n45"><circle class="dg" cx="351" r="11" transform="rotate(268.28)"/></g>
<g id="n46"><circle class="dg" cx="527" r="11" transform="rotate(238.125)"/></g>
<g id="n47"><circle class="dr" cx="644" r="13" transform="rotate(232.5)"/></g>
<g id="n48"><circle class="dg" cx="586" r="11" transform="rotate(243.75)"/></g>
<g id="n49"><circle class="dg" cx="644" r="11" transform="rotate(247.5)"/></g>
<g id="n50"><circle class="dg" cx="410" r="11" transform="rotate(298.44)"/></g>
<g id="n51"><circle class="dg" cx="469" r="11" transform="rotate(271.875)"/></g>
<g id="n52"><circle class="dg" cx="586" r="11" transform="rotate(261.25)"/></g>
<g id="n53"><circle class="dg" cx="644" r="11" transform="rotate(257.5)"/></g>
<g id="n54"><circle class="dg" cx="527" r="11" transform="rotate(282.5)"/></g>
<g id="n55"><circle class="dr" cx="586" r="13" transform="rotate(276.25)"/></g>
<g id="n56"><circle class="dr" cx="644" r="13" transform="rotate(272.5)"/></g>
<g id="n57"><circle class="dg" cx="586" r="11" transform="rotate(288.75)"/></g>
<g id="n58"><circle class="dy" cx="644" r="13" transform="rotate(292.5)"/></g>
<g id="n59"><circle class="dg" cx="469" r="11" transform="rotate(325)"/></g>
<g id="n60"><circle class="dg" cx="527" r="11" transform="rotate(312.5)"/></g>
<g id="n61"><circle class="dg" cx="586" r="11" transform="rotate(306.25)"/></g>
<g id="n62"><circle class="dy" cx="644" r="13" transform="rotate(302.5)"/></g>
<g id="n63"><circle class="dg" cx="586" r="11" transform="rotate(318.75)"/></g>
<g id="n64"><circle class="dg" cx="644" r="11" transform="rotate(322.5)"/></g>
<g id="n65"><circle class="dg" cx="586" r="11" transform="rotate(337.5)"/></g>
<g id="n66"><circle class="dr" cx="644" r="13" transform="rotate(332.5)"/></g>
<g id="n67"><circle class="dg" cx="644" r="11" transform="rotate(342.5)"/></g>
</g>

<g id="legend-bootstrap">
<text class="bt" x="8" y="88" font-size="40">bootstrap</text>
<circle cx="29" cy="136" r="21.5" fill="#808080"/>
<circle cx="29" cy="194" r="21.5" fill="#ffd700"/>
<circle cx="29" cy="254" r="21.5" fill="#ff0000"/>
<text class="bt" x="66" y="134" font-size="36">&lt;=80</text>
<text class="bt" x="66" y="192" font-size="36">81~90</text>
<text class="bt" x="66" y="252" font-size="36">91~100</text>
</g>

<g id="legend-groups">
<rect class="sq" x="2247" y="70" width="74" height="61" fill="#0000ff"/>
<rect class="sq" x="2247" y="143.5" width="74" height="61" fill="#800000"/>
<rect class="sq" x="2247" y="217" width="74" height="61" fill="#6a0080"/>
<rect class="sq" x="2247" y="290.5" width="74" height="61" fill="#ffa500"/>
<rect class="sq" x="2247" y="364" width="74" height="61" fill="#ee00ff"/>
<rect class="sq" x="2247" y="437.5" width="74" height="61" fill="#00ff00"/>
<rect class="sq" x="2247" y="511" width="74" height="61" fill="#ff0000"/>
<text class="lg" x="2330" y="101">G1</text>
<text class="lg" x="2330" y="174.5">G2</text>
<text class="lg" x="2330" y="248">G3</text>
<text class="lg" x="2330" y="321.5">G4</text>
<text class="lg" x="2330" y="395">G5</text>
<text class="lg" x="2330" y="468.5">G6</text>
<text class="lg" x="2330" y="542">G7</text>
</g>
</svg>
